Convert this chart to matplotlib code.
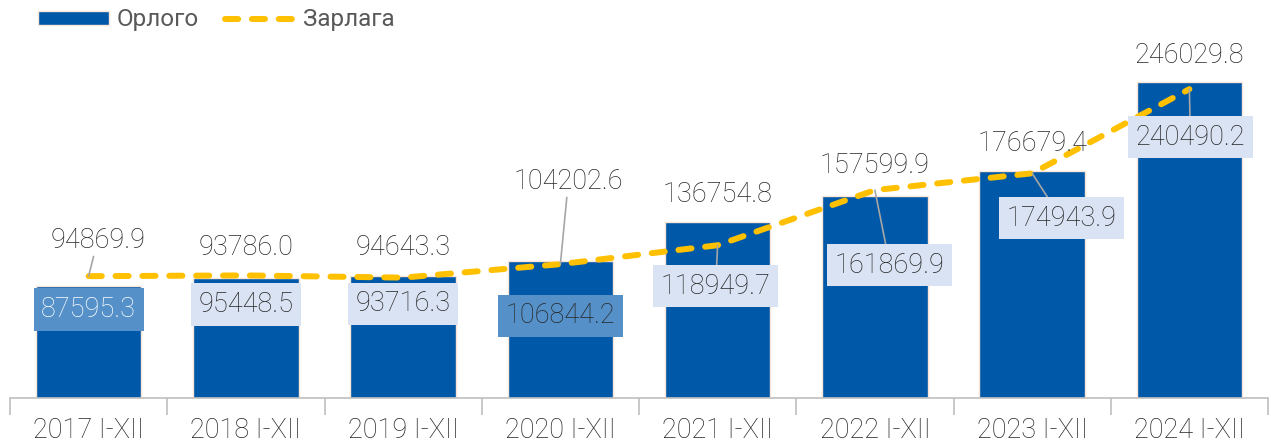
import numpy as np
import matplotlib
matplotlib.use("Agg")
import matplotlib.pyplot as plt
from matplotlib.lines import Line2D
from matplotlib.patches import Patch

# data
years = ['2017 I-XII', '2018 I-XII', '2019 I-XII', '2020 I-XII',
         '2021 I-XII', '2022 I-XII', '2023 I-XII', '2024 I-XII']
orlogo = [87595.3, 93786.0, 94643.3, 106844.2, 136754.8, 157599.9, 176679.4, 246029.8]
zarlaga = [94869.9, 95448.5, 93716.3, 104202.6, 118949.7, 161869.9, 174943.9, 240490.2]

# label placement (pixel offsets from the point), box style
bar_lbl = [(0, -24, 'mid'), (0, 30, None), (0, 29, None), (0, -55, 'mid'),
           (0, 28, None), (0, 30, None), (0, 28, None), (0, 27, None)]
line_lbl = [(9, 36, None, True), (0, -29, 'light', False), (0, -26, 'light', False),
            (8, 83, None, True), (-2, -41, 'light', True), (15, -75, 'light', True),
            (29, -45, 'light', True), (1, -48, 'light', True)]

BAR_C = '#0058A8'
LINE_C = '#FFC000'
TXT_C = '#262626'
BOX_C = {'mid': '#5591C8', 'light': '#DAE3F3'}

plt.rcParams['font.family'] = ['Roboto', 'DejaVu Sans']

fig = plt.figure(figsize=(12.71, 4.46), dpi=100)
ax = fig.add_axes([10 / 1271, 1 - 398 / 446, 1258 / 1271, (398 - 38.4) / 446])

x = np.arange(len(years))
ax.bar(x, orlogo, width=0.67, color=BAR_C, edgecolor='#FBE5D6', linewidth=1.0, zorder=2)
ax.plot(x, zarlaga, color=LINE_C, lw=4.3, dashes=(2.2, 2.3),
        dash_capstyle='round', zorder=3)

ax.set_xlim(-0.5, len(years) - 0.5)
ax.set_ylim(0, 280000)

fs = 19.5
for i, v in enumerate(orlogo):
    dx, dy, box = bar_lbl[i]
    kw = {}
    col = TXT_C
    if box:
        kw['bbox'] = dict(boxstyle='square,pad=0.28', fc=BOX_C[box], ec='none')
        if i == 0:
            col = 'white'
    ax.annotate(f'{v:.1f}', (i, v), xytext=(dx, dy), textcoords='offset pixels',
                ha='center', va='center', fontsize=fs, color=col, fontweight='light',
                zorder=5, **kw)

for i, v in enumerate(zarlaga):
    dx, dy, box, leader = line_lbl[i]
    kw = {}
    if box:
        kw['bbox'] = dict(boxstyle='square,pad=0.28', fc=BOX_C[box], ec='none')
    if leader:
        kw['arrowprops'] = dict(arrowstyle='-', color='#A6A6A6', lw=1.2,
                                shrinkA=0, shrinkB=0)
    ax.annotate(f'{v:.1f}', (i, v), xytext=(dx, dy), textcoords='offset pixels',
                ha='center', va='center', fontsize=fs, color=TXT_C, fontweight='light',
                zorder=5, **kw)

for s in ['top', 'right', 'left']:
    ax.spines[s].set_visible(False)
ax.spines['bottom'].set_color('#BFBFBF')
ax.spines['bottom'].set_linewidth(1.2)
ax.set_yticks([])
ax.set_xticks(x)
ax.set_xticklabels(years, fontsize=fs, color=TXT_C, fontweight='light')
ax.tick_params(axis='x', which='major', length=0, pad=14)
ax.set_xticks(np.arange(-0.5, len(years)), minor=True)
ax.tick_params(axis='x', which='minor', length=12, color='#BFBFBF', width=1.2)

handles = [Patch(fc=BAR_C, ec='#FBE5D6', lw=1),
           Line2D([], [], color=LINE_C, lw=4.3, dashes=(2.2, 2.3), dash_capstyle='round')]
leg = fig.legend(handles, ['Орлого', 'Зарлага'], loc='upper left', ncol=2,
                 bbox_to_anchor=(0.013, 1.03), frameon=False,
                 handlelength=2.9, handleheight=0.55, handletextpad=0.3,
                 columnspacing=1.1, labelcolor='#595959', prop={'size': 17.5})

fig.savefig('out.png', dpi=100)
